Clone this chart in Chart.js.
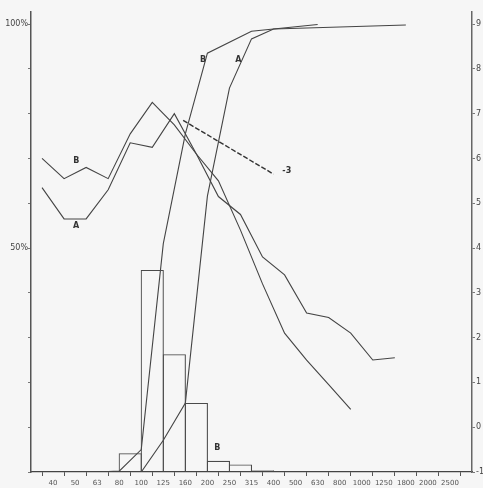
<!DOCTYPE html>
<html><head><meta charset="utf-8">
<script src="https://cdn.jsdelivr.net/npm/chart.js@4/dist/chart.umd.min.js"></script>
<style>html,body{margin:0;padding:0;background:#f6f6f6}#wrap{width:483px;height:488px}</style>
</head><body><div id="wrap"><canvas id="c" width="483" height="488"></canvas></div>
<script>
// Category tick labels (grain size classes)
const xLabels = ['40','50','63','80','100','125','160','200','250','315','400','500','630','800','1000','1250','1800','2000','2500'];
// Left axis (%) and right axis ticks
const leftTicks = [0,10,20,30,40,50,60,70,80,90,100];
const leftShown = {50:'50%',100:'100%'};
const rightTicks = [-1,0,1,2,3,4,5,6,7,8,9];

// Histogram B (% per class), from lower class bound
const histFrom = ['80','100','125','160','200','250','315'];
const histValues = [4.2, 45.1, 26.3, 15.4, 2.5, 1.7, 0.4];

// Cumulative curves (%)
const cumBAt = ['63','80','100','125','160','200','315','630'];
const cumB   = [0, 0.2, 5, 51, 75.5, 93.5, 98.4, 99.9];
const cumAAt = ['80','100','125','160','200','250','315','400','1800'];
const cumA   = [0, 0, 7.1, 15.4, 61.6, 85.7, 96.7, 98.9, 99.8];

// Class-centre curves (right axis), first value is the class below 40
const wigB = [6.0, 5.55, 5.8, 5.55, 6.55, 7.25, 6.75, 6.1, 5.5, 4.4, 3.2, 2.1, 1.5, 0.95, 0.4];
const wigA = [5.35, 4.65, 4.65, 5.3, 6.35, 6.25, 7.0, 6.1, 5.15, 4.75, 3.8, 3.4, 2.55, 2.45, 2.1, 1.5, 1.55];

// Slope reference line "-3" (right axis)
const slopeX = [5.9, 10.0];
const slopeY = [6.85, 5.65];

// Text labels: [text, x index, value, axis]
const notes = [
  ['B', 1.05, 5.95, 'y2'], ['A', 1.05, 4.5, 'y2'],
  ['B', 6.8, 92, 'y'], ['A', 8.4, 92, 'y'],
  ['-3', 10.6, 5.72, 'y2'], ['B', 7.45, 5.4, 'y']
];

const idx = l => xLabels.indexOf(l);
const ink = '#444';
const lineDs = (data, axis, extra) => Object.assign({
  type:'line', data, yAxisID:axis, borderColor:ink, borderWidth:1.1,
  pointRadius:0, tension:0, fill:false
}, extra||{});

const bgPlugin = {
  id:'bg',
  beforeDraw(ch){const c=ch.ctx;c.save();c.fillStyle='#f6f6f6';c.fillRect(0,0,ch.width,ch.height);c.restore();}
};
const notePlugin = {
  id:'notes',
  afterDatasetsDraw(ch){
    const c=ch.ctx; c.save();
    c.fillStyle='#333'; c.font='bold 8px "DejaVu Sans"'; c.textAlign='center'; c.textBaseline='middle';
    notes.forEach(([t,x,v,ax])=>{
      c.fillText(t, ch.scales.x.getPixelForValue(x), ch.scales[ax].getPixelForValue(v));
    });
    c.restore();
  }
};

const LMAX = 102.7;
new Chart(document.getElementById('c'), {
  type:'line',
  data:{
    datasets:[
      {type:'bar', data: histFrom.map((l,i)=>({x: idx(l)+0.5, y: histValues[i]})), yAxisID:'y',
       backgroundColor:'rgba(0,0,0,0)', borderColor:'#4a4a4a', borderWidth:1.1,
       barPercentage:1.05, categoryPercentage:1, borderSkipped:'bottom'},
      lineDs(cumBAt.map((l,i)=>({x:idx(l), y:cumB[i]})), 'y'),
      lineDs(cumAAt.map((l,i)=>({x:idx(l), y:cumA[i]})), 'y'),
      lineDs(wigB.map((v,i)=>({x:i-0.5, y:v})), 'y2'),
      lineDs(wigA.map((v,i)=>({x:i-0.5, y:v})), 'y2'),
      lineDs(slopeX.map((x,i)=>({x, y:slopeY[i]})), 'y2', {borderDash:[5,2], borderWidth:1.4, borderColor:'#333'})
    ]
  },
  options:{
    animation:false, responsive:false, devicePixelRatio:1,
    layout:{padding:{top:12,left:0,right:0,bottom:0}},
    plugins:{legend:{display:false}, tooltip:{enabled:false}},
    scales:{
      x:{type:'linear', min:-1, max:19, offset:false,
         afterBuildTicks:s=>{s.ticks = xLabels.map((l,i)=>({value:i}));},
         afterFit:s=>{s.height=16;},
         ticks:{autoSkip:false, maxRotation:0, padding:3, color:'#555', font:{family:'DejaVu Sans', size:7},
                callback:(v)=>xLabels[v]},
         grid:{drawOnChartArea:false, drawTicks:true, tickLength:4, color:'#555'},
         border:{display:true, color:'#444', width:1.2}},
      y:{type:'linear', position:'left', min:0, max:LMAX,
         afterBuildTicks:s=>{s.ticks = leftTicks.map(v=>({value:v}));},
         afterFit:s=>{s.width=31;},
         ticks:{padding:0, color:'#444', font:{family:'DejaVu Sans', size:8},
                callback:v=>leftShown[v]||''},
         grid:{drawOnChartArea:false, drawTicks:true, tickLength:3, color:'#777'},
         border:{display:true, color:'#555', width:1.5}},
      y2:{type:'linear', position:'right', min:-1, max:-1+LMAX/10,
         afterBuildTicks:s=>{s.ticks = rightTicks.map(v=>({value:v}));},
         afterFit:s=>{s.width=11;},
         ticks:{padding:1, color:'#444', font:{family:'DejaVu Sans', size:8}, callback:v=>String(v)},
         grid:{drawOnChartArea:false, drawTicks:true, tickLength:3, color:'#777'},
         border:{display:true, color:'#666', width:1.5}}
    }
  },
  plugins:[bgPlugin, notePlugin]
});
</script></body></html>
